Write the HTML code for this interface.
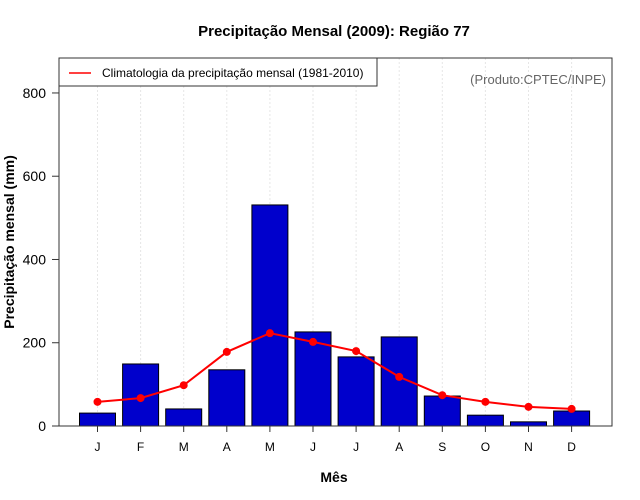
<!DOCTYPE html>
<html><head><meta charset="utf-8"><style>
body{margin:0;background:#fff;}
svg{font-family:"Liberation Sans",sans-serif;display:block}
</style></head><body>
<svg id="chart" width="640" height="500" viewBox="0 0 640 500">
<text x="334" y="36" text-anchor="middle" font-size="15" font-weight="bold">Precipitação Mensal (2009): Região 77</text>
<g id="grid"></g>
<g id="bars"></g>
<g id="line"></g>
<g id="axes"></g>
<rect x="59" y="58" width="553" height="368" fill="none" stroke="#333" stroke-width="1"/>
<g>
<rect x="59" y="58" width="318" height="28" fill="#fff" stroke="#333"/>
<line x1="69" y1="73" x2="91" y2="73" stroke="red" stroke-width="1.5"/>
<text x="102" y="77" font-size="12">Climatologia da precipitação mensal (1981-2010)</text>
</g>
<text x="606" y="84" text-anchor="end" font-size="13" fill="#666">(Produto:CPTEC/INPE)</text>
<text x="334" y="482" text-anchor="middle" font-size="14" font-weight="bold">Mês</text>
<text transform="translate(14,242) rotate(-90)" text-anchor="middle" font-size="14" font-weight="bold">Precipitação mensal (mm)</text>
</svg>
<script>
const months=["J","F","M","A","M","J","J","A","S","O","N","D"];
const precip2009=[31,149,41,135,531,226,166,214,72,26,10,36];
const climatology=[58,67,98,178,223,202,180,118,74,58,46,41];
const yTicks=[0,200,400,600,800];
const NS="http://www.w3.org/2000/svg";
function x(i){return 97.5+i*43.1;}
function y(v){return 426-v*0.4163;}
function mk(tag,attrs,parent,text){const e=document.createElementNS(NS,tag);for(const k in attrs)e.setAttribute(k,attrs[k]);if(text!==undefined)e.textContent=text;parent.appendChild(e);return e;}
const grid=document.getElementById('grid'),bars=document.getElementById('bars'),line=document.getElementById('line'),axes=document.getElementById('axes');
months.forEach((m,i)=>{
 const g=mk('line',{x1:x(i),x2:x(i),y1:58,y2:426,stroke:'#e6e6e6','stroke-dasharray':'2,2'},grid);
 
 
 const b=mk('rect',{x:x(i)-18,y:y(precip2009[i]),width:36,height:426-y(precip2009[i]),fill:'#0000cc',stroke:'#000','stroke-width':1},bars);
 
 
 const t=mk('line',{x1:x(i),x2:x(i),y1:426,y2:432,stroke:'#333'},axes);
 
 
 const l=mk('text',{x:x(i),y:451,'text-anchor':'middle','font-size':12},axes,m);
 
 
});
const pl=mk('polyline',{points:climatology.map((v,i)=>x(i)+','+y(v)).join(' '),fill:'none',stroke:'red','stroke-width':2},line);


climatology.forEach((v,i)=>{
 const c=mk('circle',{cx:x(i),cy:y(v),r:4,fill:'red'},line);
 
 
});
const ax=mk('line',{x1:52,x2:612,y1:426,y2:426,stroke:'#333'},axes);


yTicks.forEach(v=>{
 const t=mk('line',{x1:52,x2:59,y1:y(v),y2:y(v),stroke:'#333'},axes);
 
 
 const l=mk('text',{x:46,y:y(v)+5,'text-anchor':'end','font-size':14},axes,v);
 
 
});
</script>
</body></html>
